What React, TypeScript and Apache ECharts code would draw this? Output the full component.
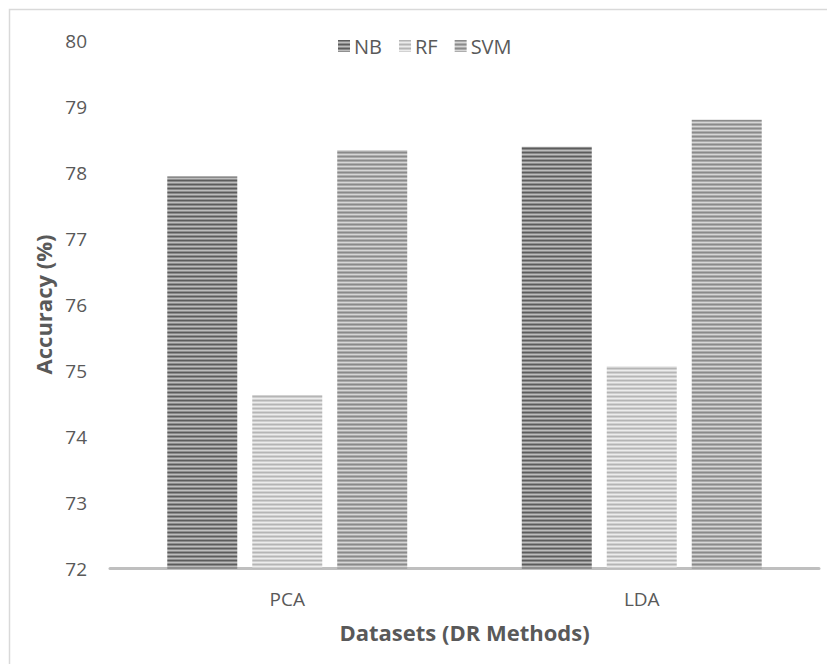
import React, { useEffect, useRef } from "react";
import * as echarts from "echarts";

const categories = ["PCA", "LDA"];
const seriesNames = ["NB", "RF", "SVM"];
const nbValues = [77.94, 78.39];
const rfValues = [74.63, 75.07];
const svmValues = [78.34, 78.8];
const yTicks = { min: 72, max: 80, interval: 1 };

// horizontal stripe textures for each method (rows of one pattern tile)
const stripeRows: Record<string, string[]> = {
  NB: ["#5c5c5c", "#8a8a8a", "#bdbdbd", "#8f8f8f"],
  RF: ["#b5b5b5", "#cfcfcf", "#ececec", "#d2d2d2"],
  SVM: ["#8a8a8a", "#aaaaaa", "#d6d6d6", "#adadad"],
};

function stripePattern(rows: string[]) {
  const c = document.createElement("canvas");
  c.width = 4;
  c.height = rows.length;
  const ctx = c.getContext("2d")!;
  rows.forEach((col, i) => {
    ctx.fillStyle = col;
    ctx.fillRect(0, i, 4, 1);
  });
  return {
    image: c.toDataURL(),
    repeat: "repeat",
    imageWidth: 4,
    imageHeight: rows.length,
  } as any;
}

export default function App() {
  const ref = useRef<HTMLDivElement>(null);

  useEffect(() => {
    if (!ref.current) return;
    const chart = echarts.init(ref.current, null, { renderer: "svg" });
    const font = "'Open Sans', 'Noto Sans', sans-serif";
    const valuesByName: Record<string, number[]> = {
      NB: nbValues,
      RF: rfValues,
      SVM: svmValues,
    };

    chart.setOption({
      animation: false,
      backgroundColor: "#ffffff",
      textStyle: { fontFamily: font },
      graphic: [
        {
          type: "rect",
          z: -1,
          silent: true,
          shape: { x: 9.5, y: 9.5, width: 1000, height: 1000 },
          style: { fill: "none", stroke: "#d9d9d9", lineWidth: 1.5 },
        },
      ],
      legend: {
        data: seriesNames,
        left: 333,
        top: 31,
        itemWidth: 12,
        itemHeight: 12,
        itemGap: 17,
        icon: "rect",
        textStyle: { color: "#595959", fontSize: 20, fontFamily: font, padding: [0, 0, 0, -1] },
      },
      grid: { left: 110, right: 8, top: 40.5, bottom: 95.5 },
      xAxis: {
        type: "category",
        data: categories,
        axisLine: { lineStyle: { color: "#bfbfbf", width: 3 } },
        axisTick: { show: false },
        axisLabel: { color: "#595959", fontSize: 19, margin: 21, fontFamily: font },
        name: "Datasets (DR Methods)",
        nameLocation: "middle",
        nameGap: 52,
        nameTextStyle: { color: "#595959", fontSize: 22, fontWeight: "bold", fontFamily: font },
      },
      yAxis: {
        type: "value",
        min: yTicks.min,
        max: yTicks.max,
        interval: yTicks.interval,
        axisLine: { show: false },
        axisTick: { show: false },
        splitLine: { show: false },
        axisLabel: { color: "#595959", fontSize: 19, margin: 23, fontFamily: font },
        name: "Accuracy (%)",
        nameLocation: "middle",
        nameGap: 54,
        nameTextStyle: { color: "#595959", fontSize: 22, fontWeight: "bold", fontFamily: font },
      },
      series: seriesNames.map((name) => ({
        name,
        type: "bar",
        data: valuesByName[name],
        barWidth: 70,
        barGap: "21.4%",
        itemStyle: { color: stripePattern(stripeRows[name]) },
      })),
    });

    return () => chart.dispose();
  }, []);

  return (
    <div
      ref={ref}
      style={{ position: "fixed", left: 0, top: 0, width: 827, height: 664 }}
    />
  );
}
